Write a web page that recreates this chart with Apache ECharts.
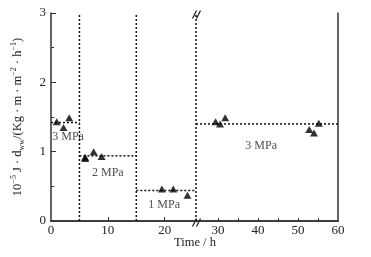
<!DOCTYPE html>
<html><head><meta charset="utf-8">
<script src="https://cdn.jsdelivr.net/npm/echarts@6/dist/echarts.min.js"></script>
<style>html,body{margin:0;padding:0;background:#fff}#c{width:371px;height:257px}</style>
</head><body><div id="c"></div>
<script>
// measured points, left part of broken time axis (0-25.5 h)
var timeLeft = [1.0, 2.2, 3.2, 6.0, 6.0, 7.5, 8.9, 19.5, 21.5, 24.0];
var fluxLeft = [1.43, 1.35, 1.49, 0.92, 0.90, 1.00, 0.93, 0.46, 0.46, 0.37];
// measured points, right part (after break)
var timeRight = [29.4, 30.5, 31.8, 52.8, 54.0, 55.2];
var fluxRight = [1.43, 1.40, 1.49, 1.32, 1.27, 1.41];
// stage levels (dotted horizontal lines)
var stageStart = [0, 5, 15];
var stageEnd = [5, 15, 25.5];
var stageLevel = [1.42, 0.94, 0.44];
var rightStageStart = 24.5, rightStageEnd = 60, rightStageLevel = 1.40;
// stage boundaries (dotted vertical lines)
var boundaries = [5, 15, 25.5];
// pressure annotations
var pressLabels = ['3 MPa', '2 MPa', '1 MPa'];
var pressX = [3.0, 10.0, 19.9];
var pressY = [1.21, 0.70, 0.23];
var pressRightLabel = '3 MPa', pressRightX = 40.8, pressRightY = 1.09;
// tick labels
var xLabelsLeft = [0, 10, 20];
var xTicksLeft = [10, 20];
var xLabelsRight = [30, 40, 50, 60];
var xTicksRight = [30, 35, 40, 45, 50, 55];

var FONT = "'Liberation Serif','Times New Roman',serif";
var AX = '#333';
var chart = echarts.init(document.getElementById('c'), null, {renderer: 'canvas'});

var series = [];
series.push({type: 'scatter', xAxisIndex: 0, yAxisIndex: 0, symbol: 'triangle', symbolSize: [8, 7],
  itemStyle: {color: '#000'}, data: timeLeft.map(function (t, i) { return [t, fluxLeft[i]]; }), z: 5});
series.push({type: 'scatter', xAxisIndex: 1, yAxisIndex: 1, symbol: 'triangle', symbolSize: [8, 7],
  itemStyle: {color: '#000'}, data: timeRight.map(function (t, i) { return [t, fluxRight[i]]; }), z: 5});
var dot = {color: '#111', width: 1.5, type: [2, 2]};
stageLevel.forEach(function (y, i) {
  series.push({type: 'line', xAxisIndex: 0, yAxisIndex: 0, symbol: 'none', clip: false, lineStyle: dot,
    data: [[stageStart[i], y], [stageEnd[i], y]], silent: true});
});
series.push({type: 'line', xAxisIndex: 1, yAxisIndex: 1, symbol: 'none', clip: false, lineStyle: dot,
  data: [[rightStageStart, rightStageLevel], [rightStageEnd, rightStageLevel]], silent: true});
boundaries.forEach(function (x) {
  series.push({type: 'line', xAxisIndex: 0, yAxisIndex: 0, symbol: 'none', clip: false, lineStyle: dot,
    data: [[x, 0], [x, 3]], silent: true});
});
series.push({type: 'scatter', xAxisIndex: 0, yAxisIndex: 0, symbolSize: 0, silent: true,
  label: {show: true, position: 'inside', formatter: function (p) { return pressLabels[p.dataIndex]; },
    fontFamily: FONT, fontSize: 12, color: '#222'},
  data: pressX.map(function (x, i) { return [x, pressY[i]]; })});
series.push({type: 'scatter', xAxisIndex: 1, yAxisIndex: 1, symbolSize: 0, silent: true,
  label: {show: true, position: 'inside', formatter: pressRightLabel, fontFamily: FONT, fontSize: 12, color: '#222'},
  data: [[pressRightX, pressRightY]]});

var lineOnly = {show: true, lineStyle: {color: AX, width: 1.5}};
chart.setOption({
  animation: false,
  grid: [
    {left: 51, top: 13, width: 145, height: 208},
    {left: 196, top: 13, width: 142, height: 208}
  ],
  xAxis: [
    {type: 'value', gridIndex: 0, min: 0, max: 25.5, interval: 10, axisLine: {show: true, onZero: false, lineStyle: {color: AX, width: 1.5}},
      axisTick: {show: true, inside: true, length: 4, customValues: xTicksLeft, lineStyle: {color: AX}},
      axisLabel: {customValues: xLabelsLeft, fontFamily: FONT, fontSize: 13, color: '#222', margin: 3},
      splitLine: {show: false}},
    {type: 'value', gridIndex: 1, min: 24.5, max: 60, axisLine: {show: true, onZero: false, lineStyle: {color: AX, width: 1.5}},
      axisTick: {show: true, inside: true, length: 3, customValues: xTicksRight, lineStyle: {color: AX}},
      axisLabel: {customValues: xLabelsRight, fontFamily: FONT, fontSize: 13, color: '#222', margin: 3},
      splitLine: {show: false}},
    {type: 'value', gridIndex: 0, position: 'top', min: 0, max: 25.5, axisLine: lineOnly, axisTick: {show: false}, axisLabel: {show: false}, splitLine: {show: false}},
    {type: 'value', gridIndex: 1, position: 'top', min: 24.5, max: 60, axisLine: lineOnly, axisTick: {show: false}, axisLabel: {show: false}, splitLine: {show: false}}
  ],
  yAxis: [
    {type: 'value', gridIndex: 0, min: 0, max: 3, interval: 1,
      axisLine: {show: true, lineStyle: {color: AX, width: 1.5}},
      axisTick: {show: true, inside: true, length: 5, lineStyle: {color: AX}},
      minorTick: {show: true, splitNumber: 2, length: 3, lineStyle: {color: AX}},
      axisLabel: {fontFamily: FONT, fontSize: 13, color: '#222', margin: 5},
      splitLine: {show: false},
      name: '10{sup|−5} J · d{sub|ww}/(Kg · m · m{sup|−2} · h{sup|−1})',
      nameLocation: 'middle', nameGap: 25, nameRotate: 90,
      nameTextStyle: {fontFamily: FONT, fontSize: 12.5, color: '#222', lineHeight: 16,
        rich: {sup: {fontFamily: FONT, fontSize: 8, color: '#222', verticalAlign: 'top', lineHeight: 16},
               sub: {fontFamily: FONT, fontSize: 8, color: '#222', verticalAlign: 'bottom', lineHeight: 16}}}},
    {type: 'value', gridIndex: 1, min: 0, max: 3, position: 'right',
      axisLine: lineOnly, axisTick: {show: false}, axisLabel: {show: false}, splitLine: {show: false}}
  ],
  title: {text: 'Time / h', left: 174, top: 236, textStyle: {fontFamily: FONT, fontSize: 12.5, fontWeight: 'normal', color: '#222'}, padding: 0},
  graphic: [
    {type: 'group', left: 190, top: 8, children: [
      {type: 'rect', shape: {x: 0, y: 3, width: 10, height: 4}, style: {fill: '#fff'}},
      {type: 'line', shape: {x1: 1, y1: 9, x2: 5, y2: 1}, style: {stroke: '#222', lineWidth: 1.2}},
      {type: 'line', shape: {x1: 5, y1: 9, x2: 9, y2: 1}, style: {stroke: '#222', lineWidth: 1.2}}
    ]},
    {type: 'group', left: 190, top: 216, children: [
      {type: 'rect', shape: {x: 0, y: 3, width: 10, height: 4}, style: {fill: '#fff'}},
      {type: 'line', shape: {x1: 1, y1: 9, x2: 5, y2: 1}, style: {stroke: '#222', lineWidth: 1.2}},
      {type: 'line', shape: {x1: 5, y1: 9, x2: 9, y2: 1}, style: {stroke: '#222', lineWidth: 1.2}}
    ]}
  ],
  series: series
});
</script></body></html>
